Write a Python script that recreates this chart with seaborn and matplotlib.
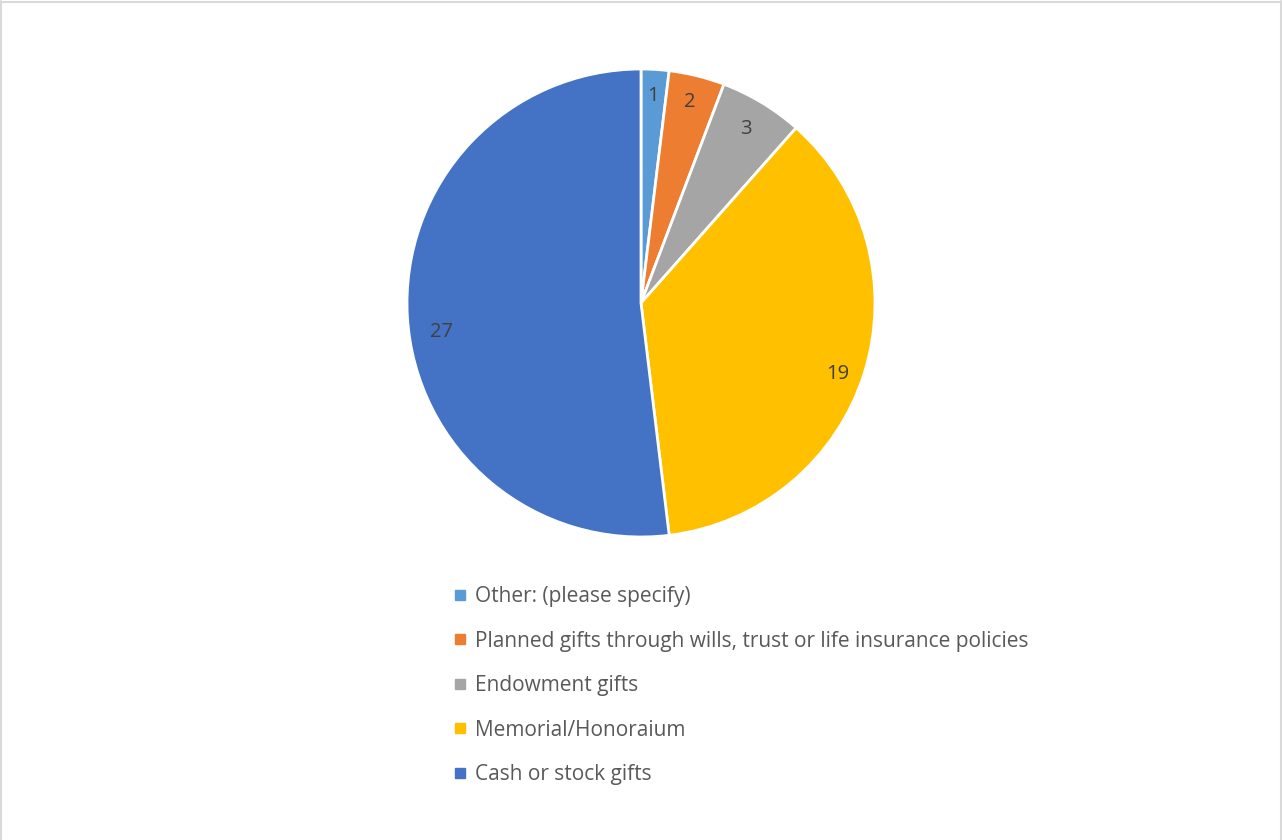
import matplotlib
matplotlib.use("Agg")
import matplotlib.pyplot as plt
import seaborn as sns
from matplotlib.lines import Line2D

categories = [
    "Other: (please specify)",
    "Planned gifts through wills, trust or life insurance policies",
    "Endowment gifts",
    "Memorial/Honoraium",
    "Cash or stock gifts",
]
values = [1, 2, 3, 19, 27]
colors = ["#5B9BD5", "#ED7D31", "#A5A5A5", "#FFC000", "#4472C4"]
# small nudges of the data labels (Excel "best fit" placement)
label_nudge = [(0, 0.015), (0, 0.015), (0, 0), (0.01, -0.045), (0.017, -0.07)]

sns.set_theme(style="white")
plt.rcParams["font.family"] = ["Open Sans", "DejaVu Sans"]

W, H = 1282, 840
fig = plt.figure(figsize=(W / 100, H / 100), dpi=100)

# pie axes: centre (641, 303), radius 234 px
cx, cy, r = 641, 303, 234
ax = fig.add_axes([(cx - r) / W, (H - cy - r) / H, 2 * r / W, 2 * r / H])
wedges, texts, autotexts = ax.pie(
    values,
    colors=colors,
    startangle=90,
    counterclock=False,
    autopct=lambda p: f"{round(p * sum(values) / 100)}",
    pctdistance=0.87,
    wedgeprops=dict(edgecolor="white", linewidth=2),
    textprops=dict(color="#404040", fontsize=14.5),
)
for t, (dx, dy) in zip(autotexts, label_nudge):
    x, y = t.get_position()
    t.set_position((x + dx, y + dy))
ax.set_xlim(-1, 1)
ax.set_ylim(-1, 1)
ax.set_aspect("equal")
ax.axis("off")

handles = [
    Line2D([], [], marker="s", linestyle="none", markersize=6.5,
           markerfacecolor=c, markeredgecolor=c)
    for c in colors
]
fig.legend(
    handles, categories,
    loc="upper left",
    bbox_to_anchor=(454 / W, 1 - 586 / H),
    frameon=False,
    fontsize=15,
    labelcolor="#595959",
    handlelength=0.55,
    handletextpad=0.45,
    labelspacing=1.13,
    borderpad=0,
    borderaxespad=0,
)

# thin light-grey chart border (left, top, right)
for xs, ys in [([1 / W, 1 / W], [0, 1 - 1 / H]),
               ([1 / W, 1 - 1 / W], [1 - 1.5 / H, 1 - 1.5 / H]),
               ([1 - 1.5 / W, 1 - 1.5 / W], [0, 1 - 1 / H])]:
    fig.add_artist(Line2D(xs, ys, transform=fig.transFigure,
                          color="#D9D9D9", linewidth=1.5))

fig.savefig("out.png", dpi=100, facecolor="white")
